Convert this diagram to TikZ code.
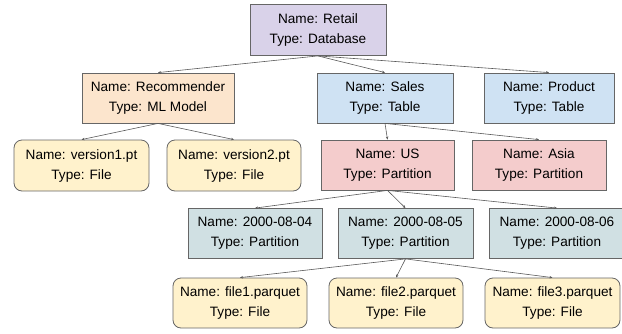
\documentclass[tikz,border=0pt]{standalone}
\usepackage{fontspec}
\setmainfont{Liberation Sans}
\usetikzlibrary{arrows.meta}
\definecolor{edgegray}{HTML}{666666}
\definecolor{linegray}{HTML}{595959}
\definecolor{cpurple}{HTML}{D9D2E9}
\definecolor{cpeach}{HTML}{FCE5CD}
\definecolor{cblue}{HTML}{CFE2F3}
\definecolor{cpink}{HTML}{F4CCCC}
\definecolor{cteal}{HTML}{D0E0E3}
\definecolor{cyellow}{HTML}{FFF2CC}
\tikzset{
  box/.style={draw=edgegray, line width=0.8pt, align=center, inner sep=0pt,
    font=\fontsize{13.6}{20}\selectfont, text=black},
  filebox/.style={box, fill=cyellow, rounded corners=8pt},
  conn/.style={draw=linegray, line width=0.6pt, -{Stealth[length=3pt,width=2.5pt]}}
}
\begin{document}
\begin{tikzpicture}[x=1pt,y=-1pt]
\useasboundingbox (0,0) rectangle (622,333);
\clip (0,0) rectangle (622,333);
\node[box, fill=cpurple, minimum width=136pt, minimum height=51pt] (retail) at (318,30) {Name: Retail\\Type: Database};
\node[box, fill=cpeach, minimum width=152pt, minimum height=50pt] (rec) at (158,98) {Name: Recommender\\Type: ML Model};
\node[box, fill=cblue, minimum width=136pt, minimum height=50pt] (sales) at (385,98) {Name: Sales\\Type: Table};
\node[box, fill=cblue, minimum width=130pt, minimum height=50pt] (product) at (549,98) {Name: Product\\Type: Table};
\node[filebox, minimum width=135pt, minimum height=51pt] (v1) at (81.5,165.5) {Name: version1.pt\\Type: File};
\node[filebox, minimum width=134pt, minimum height=51pt] (v2) at (234,165.5) {Name: version2.pt\\Type: File};
\node[box, fill=cpink, minimum width=133pt, minimum height=50pt] (us) at (387.5,165) {Name: US\\Type: Partition};
\node[box, fill=cpink, minimum width=134pt, minimum height=50pt] (asia) at (539,165) {Name: Asia\\Type: Partition};
\node[box, fill=cteal, minimum width=134pt, minimum height=50pt] (d4) at (255,233.5) {Name: 2000-08-04\\Type: Partition};
\node[box, fill=cteal, minimum width=135pt, minimum height=50pt] (d5) at (405.5,233.5) {Name: 2000-08-05\\Type: Partition};
\node[box, fill=cteal, minimum width=136pt, minimum height=50pt] (d6) at (557,233.5) {Name: 2000-08-06\\Type: Partition};
\node[filebox, minimum width=134pt, minimum height=50pt] (f1) at (240,303) {Name: file1.parquet\\Type: File};
\node[filebox, minimum width=134pt, minimum height=50pt] (f2) at (396,303) {Name: file2.parquet\\Type: File};
\node[filebox, minimum width=135pt, minimum height=50pt] (f3) at (552.5,303) {Name: file3.parquet\\Type: File};
\draw[conn] (retail.south) -- (rec.north);
\draw[conn] (retail.south) -- (sales.north);
\draw[conn] (retail.south) -- (product.north);
\draw[conn] (rec.south) -- (v1.north);
\draw[conn] (rec.south) -- (v2.north);
\draw[conn] (sales.south) -- (us.north);
\draw[conn] (sales.south) -- (asia.north);
\draw[conn] (us.south) -- (d4.north);
\draw[conn] (us.south) -- (d5.north);
\draw[conn] (us.south) -- (d6.north);
\draw[conn] (d5.south) -- (f1.north);
\draw[conn] (d5.south) -- (f2.north);
\draw[conn] (d5.south) -- (f3.north);
\end{tikzpicture}
\end{document}
